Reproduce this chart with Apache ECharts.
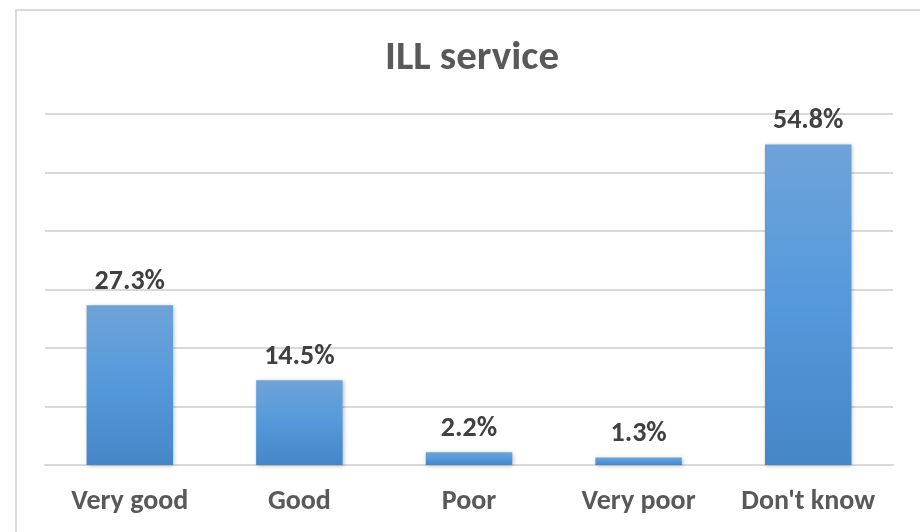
<!DOCTYPE html>
<html>
<head>
<meta charset="utf-8">
<script src="https://cdn.jsdelivr.net/npm/echarts@6/dist/echarts.min.js"></script>
<style>
  html, body { margin: 0; padding: 0; background: #fff; }
  #frame { position: absolute; left: 15px; top: 9px; width: 920px; height: 540px;
           border-left: 2px solid #d9d9d9; border-top: 2px solid #d9d9d9; }
  #chart { position: absolute; left: 0; top: 0; width: 920px; height: 532px; }
</style>
</head>
<body>
<div id="frame"></div>
<div id="chart"></div>
<script>
// ratings for the ILL service, in percent
const categories = ['Very good', 'Good', 'Poor', 'Very poor', "Don't know"];
const shares = [27.3, 14.5, 2.2, 1.3, 54.8];

const chart = echarts.init(document.getElementById('chart'));
const font = 'Calibri, "Open Sans", "Noto Sans", sans-serif';

chart.setOption({
  animation: false,
  title: {
    text: 'ILL service',
    left: 380,
    top: 33,
    textStyle: { fontFamily: font, fontSize: 41, fontWeight: 'bold', color: '#595959' }
  },
  grid: { left: 45, right: 27, top: 114, bottom: 67 },
  xAxis: {
    type: 'category',
    data: categories,
    axisLine: { lineStyle: { color: '#d9d9d9', width: 2 } },
    axisTick: { show: false },
    axisLabel: { interval: 0, margin: 23, fontFamily: font, fontSize: 28, fontWeight: 'bold', color: '#595959' }
  },
  yAxis: {
    type: 'value',
    min: 0,
    max: 60,
    interval: 10,
    axisLabel: { show: false },
    axisLine: { show: false },
    axisTick: { show: false },
    splitLine: { lineStyle: { color: '#d9d9d9', width: 2 } }
  },
  series: [{
    type: 'bar',
    data: shares,
    barWidth: '51%',
    itemStyle: {
      color: new echarts.graphic.LinearGradient(0, 0, 0, 1, [
        { offset: 0, color: '#6fa3d8' },
        { offset: 0.5, color: '#5499db' },
        { offset: 1, color: '#4586c6' }
      ]),
      shadowColor: 'rgba(0,0,0,0.25)',
      shadowBlur: 4,
      shadowOffsetX: 1,
      shadowOffsetY: 1
    },
    label: {
      show: true,
      position: 'top',
      distance: 9,
      formatter: p => p.value.toFixed(1) + '%',
      fontFamily: font,
      fontSize: 28,
      fontWeight: 'bold',
      color: '#404040'
    }
  }]
});
</script>
</body>
</html>
